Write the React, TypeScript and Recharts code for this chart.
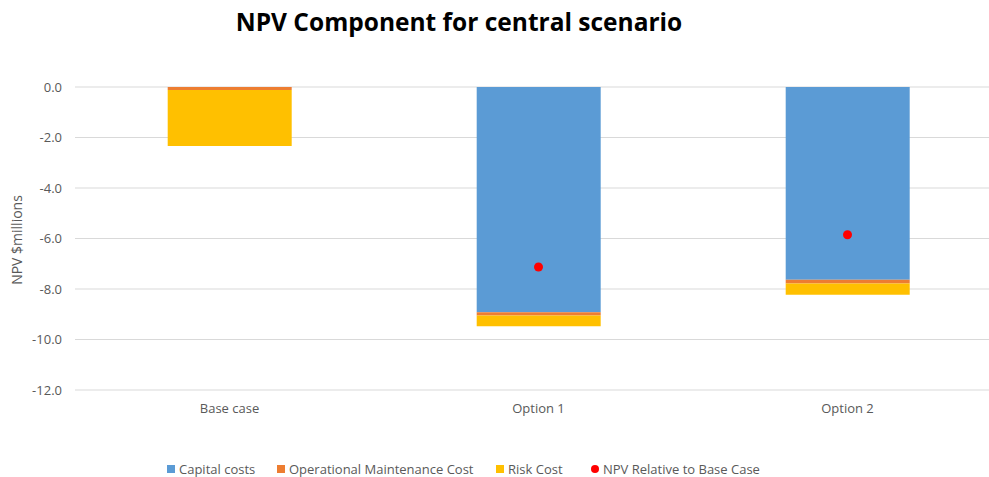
import React from 'react';
import { ComposedChart, Bar, Line, XAxis, YAxis, CartesianGrid } from 'recharts';

const categories = ['Base case', 'Option 1', 'Option 2'];
const capitalCosts = [0, -8.92, -7.63];
const opMaintCost = [-0.12, -0.13, -0.15];
const riskCost = [-2.22, -0.43, -0.45];
const npvRelative: (number | null)[] = [null, -7.13, -5.85];
const yTicks = [0, -2, -4, -6, -8, -10, -12];

const data = categories.map((c, i) => ({
  name: c,
  capital: capitalCosts[i],
  ops: opMaintCost[i],
  risk: riskCost[i],
  npv: npvRelative[i],
}));

const FONT = '"Open Sans", sans-serif';

const legendItems = [
  { label: 'Capital costs', color: '#5B9BD5', shape: 'square', x: 167 },
  { label: 'Operational Maintenance Cost', color: '#ED7D31', shape: 'square', x: 277 },
  { label: 'Risk Cost', color: '#FFC000', shape: 'square', x: 496 },
  { label: 'NPV Relative to Base Case', color: '#FF0000', shape: 'circle', x: 591 },
];

export default function App() {
  return (
    <div style={{ position: 'absolute', left: 0, top: 0, width: 989, height: 477, overflow: 'hidden', background: '#fff', fontFamily: FONT }}>
      <div style={{ position: 'absolute', left: 0, width: 918, top: 5, textAlign: 'center', fontSize: 24.5, lineHeight: '34px', fontWeight: 700, color: '#000' }}>
        NPV Component for central scenario
      </div>
      <div style={{ position: 'absolute', left: 17, top: 240, transform: 'translate(-50%, -50%) rotate(-90deg)', fontSize: 14, lineHeight: '18px', color: '#595959', whiteSpace: 'nowrap' }}>
        NPV $millions
      </div>
      <ComposedChart
        width={1002}
        height={477}
        data={data}
        margin={{ top: 87, right: 0, bottom: 57, left: 0 }}
        barCategoryGap="30%"
      >
        <CartesianGrid vertical={false} stroke="#D9D9D9" />
        <XAxis
          dataKey="name"
          axisLine={false}
          tickLine={false}
          tickMargin={8}
          height={30}
          tick={{ fill: '#595959', fontSize: 13, fontFamily: FONT }}
        />
        <YAxis
          domain={[-12, 0]}
          ticks={yTicks}
          width={75}
          axisLine={false}
          tickLine={false}
          tickMargin={7}
          tickFormatter={(v: number) => v.toFixed(1)}
          tick={{ fill: '#595959', fontSize: 13, fontFamily: FONT }}
        />
        <Bar dataKey="capital" stackId="a" fill="#5B9BD5" isAnimationActive={false} />
        <Bar dataKey="ops" stackId="a" fill="#ED7D31" isAnimationActive={false} />
        <Bar dataKey="risk" stackId="a" fill="#FFC000" isAnimationActive={false} />
        <Line
          dataKey="npv"
          stroke="none"
          dot={{ r: 4.5, fill: '#FF0000', stroke: 'none' }}
          activeDot={false}
          isAnimationActive={false}
        />
      </ComposedChart>
      {legendItems.map((it) => (
        <div key={it.label} style={{ position: 'absolute', left: it.x, top: 461, height: 16, lineHeight: '16px', display: 'flex', alignItems: 'center', fontSize: 13, color: '#595959', whiteSpace: 'nowrap' }}>
          <span style={{ display: 'inline-block', width: 8, height: 8, background: it.color, borderRadius: it.shape === 'circle' ? '50%' : 0, marginRight: 4 }} />
          {it.label}
        </div>
      ))}
    </div>
  );
}
